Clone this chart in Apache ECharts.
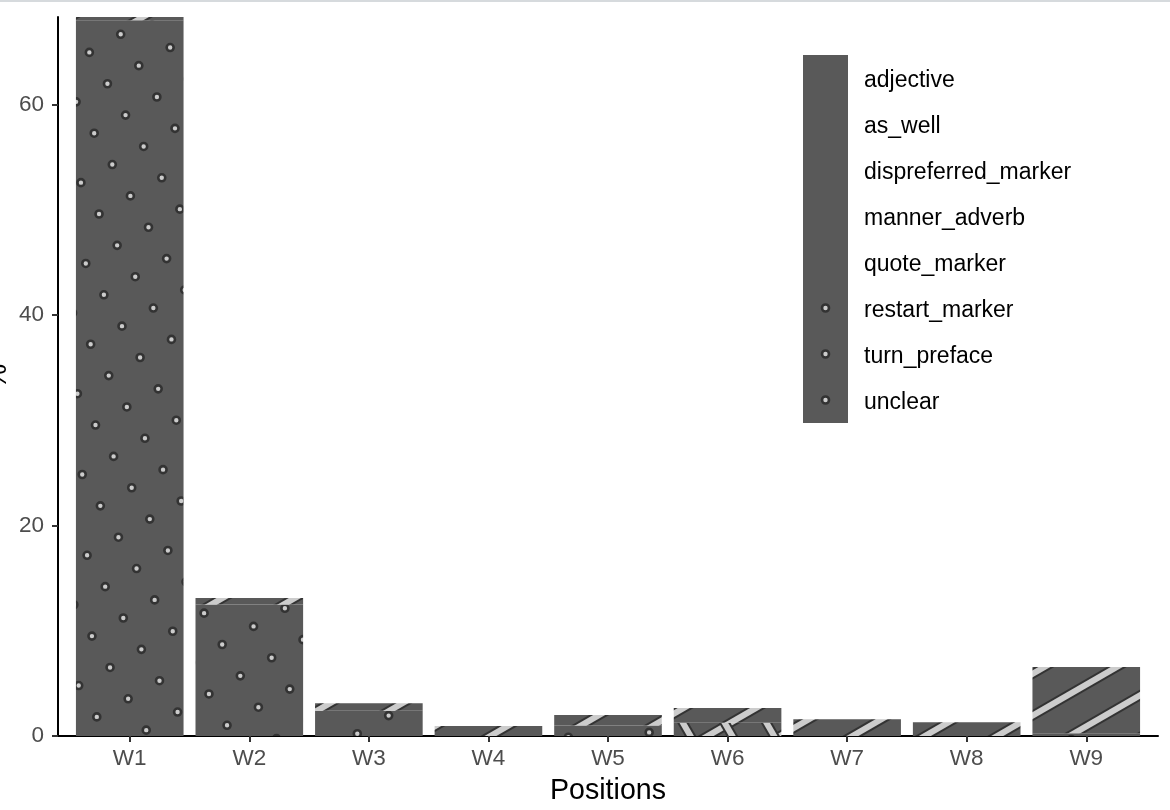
<!DOCTYPE html>
<html lang="en">
<head>
<meta charset="UTF-8">
<script src="https://cdn.jsdelivr.net/npm/echarts@6/dist/echarts.min.js"></script>
<title>Positions</title>
<style>
  html, body { margin: 0; padding: 0; background: #fff; }
  #main { width: 1170px; height: 810px; }
  #topline { position: absolute; left: 0; top: 0; width: 1170px; height: 2px; background: #d6dadd; }
</style>
</head>
<body>
<div id="main"></div>
<div id="topline"></div>
<script>
  // categories and tick labels
  var positions = ['W1', 'W2', 'W3', 'W4', 'W5', 'W6', 'W7', 'W8', 'W9'];
  var yTicks = [0, 20, 40, 60];
  var types = ['adjective', 'as_well', 'dispreferred_marker', 'manner_adverb',
               'quote_marker', 'restart_marker', 'turn_preface', 'unclear'];

  // percentages per position
  var adjective           = [0.3, 0.6, 0.7, 0,    0,   0,    0,   0,   0];
  var as_well             = [0,   0,   0,   0,    1.0, 0,    1.6, 1.3, 0];
  var dispreferred_marker = [0,   0,   0,   0,    0,   1.4,  0,   0,   6.3];
  var manner_adverb       = [0,   0,   0,   0.95, 0,   0,    0,   0,   0];
  var quote_marker        = [0,   0,   0,   0,    0,   1.26, 0,   0,   0];
  var restart_marker      = [68.0, 12.5, 2.4, 0,  0,   0,    0,   0,   0];
  var turn_preface        = [0,   0,   0,   0,    1.0, 0,    0,   0,   0.25];
  var unclear             = [0,   0,   0,   0,    0,   0,    0,   0,   0];

  var valuesByType = {
    adjective: adjective, as_well: as_well, dispreferred_marker: dispreferred_marker,
    manner_adverb: manner_adverb, quote_marker: quote_marker, restart_marker: restart_marker,
    turn_preface: turn_preface, unclear: unclear
  };

  var W = 1170, H = 810;
  var BASE = '#595959', LIGHT = '#cccccc', DARK = '#333333';
  var SP = 36.2; // pattern spacing in px
  var YMAX = 68.3;

  function baseCanvas(w, h) {
    var c = document.createElement('canvas');
    c.width = w; c.height = h;
    var ctx = c.getContext('2d');
    ctx.fillStyle = BASE;
    ctx.fillRect(0, 0, w, h);
    return c;
  }

  function drawDot(ctx, x, y) {
    ctx.beginPath();
    ctx.arc(x, y, 3.5, 0, Math.PI * 2);
    ctx.fillStyle = LIGHT;
    ctx.fill();
    ctx.lineWidth = 2.6;
    ctx.strokeStyle = DARK;
    ctx.stroke();
  }

  // rotated (30 deg) lattice of little circles
  function dotsPattern() {
    var c = baseCanvas(W, H), ctx = c.getContext('2d');
    var s = Math.sin(Math.PI / 6), co = Math.cos(Math.PI / 6);
    var ox = 120.7, oy = 34.3;
    for (var i = -60; i <= 60; i++) {
      for (var j = -60; j <= 60; j++) {
        var x = ox + i * (-SP * co) + j * (SP * s);
        var y = oy + i * (SP * s) + j * (SP * co);
        if (x > -10 && x < W + 10 && y > -10 && y < H + 10) drawDot(ctx, x, y);
      }
    }
    return c;
  }

  function drawStripeSet(ctx, angleDeg, phase) {
    var a = angleDeg * Math.PI / 180;
    var dx = Math.cos(a), dy = -Math.sin(a);   // line direction
    var nx = -dy, ny = dx;                     // normal
    for (var pass = 0; pass < 2; pass++) {
      ctx.strokeStyle = pass === 0 ? DARK : LIGHT;
      ctx.lineWidth = pass === 0 ? 10 : 6;
      for (var k = -80; k <= 80; k++) {
        var c0 = phase + k * SP;
        var cx = nx * c0, cy = ny * c0;
        ctx.beginPath();
        ctx.moveTo(cx - dx * 3000, cy - dy * 3000);
        ctx.lineTo(cx + dx * 3000, cy + dy * 3000);
        ctx.stroke();
      }
    }
  }

  function stripePattern() {
    var c = baseCanvas(W, H), ctx = c.getContext('2d');
    drawStripeSet(ctx, 30, 1136);
    return c;
  }

  function crossPattern() {
    var c = baseCanvas(W, H), ctx = c.getContext('2d');
    drawStripeSet(ctx, 30, 1136);
    drawStripeSet(ctx, 120, 230);
    return c;
  }

  var dots = dotsPattern(), stripes = stripePattern(), cross = crossPattern();
  var patternFor = {
    adjective: stripes, as_well: stripes, dispreferred_marker: stripes, manner_adverb: stripes,
    quote_marker: cross, restart_marker: dots, turn_preface: dots, unclear: dots
  };

  // legend key with a single dot
  var keyCanvas = baseCanvas(45, 46);
  drawDot(keyCanvas.getContext('2d'), 22.5, 23);
  var dotKey = 'image://' + keyCanvas.toDataURL();

  var legendData = types.map(function (t) {
    var isDot = patternFor[t] === dots;
    return { name: t, icon: isDot ? dotKey : 'rect', itemStyle: { color: BASE } };
  });

  // ggplot stacks the first level on top, so add series bottom-up
  var series = types.slice().reverse().map(function (t) {
    return {
      name: t,
      type: 'bar',
      stack: 'total',
      xAxisIndex: 0,
      yAxisIndex: 0,
      barWidth: '90%',
      silent: true,
      emphasis: { disabled: true },
      itemStyle: { color: { image: patternFor[t], repeat: 'repeat' } },
      data: valuesByType[t]
    };
  });

  var font = 'Liberation Sans, Arial, Helvetica, sans-serif';
  var myChart = echarts.init(document.getElementById('main'), null, { renderer: 'canvas' });

  // grid 0 holds the bars on a category axis whose bands match ggplot's 0.6 expansion;
  // grid 1 carries the visible axes spanning the full panel
  var panelLeft = 58, panelRight = 12, panelW = W - panelLeft - panelRight;
  var band = panelW / (positions.length - 1 + 1.2);
  var inset = band * 0.1;

  myChart.setOption({
    animation: false,
    backgroundColor: '#ffffff',
    textStyle: { fontFamily: font },
    grid: [
      { left: panelLeft + inset, right: panelRight + inset, top: 17, bottom: 74, outerBoundsMode: 'none' },
      { left: panelLeft, right: panelRight, top: 17, bottom: 74, outerBoundsMode: 'none' }
    ],
    legend: {
      orient: 'vertical',
      left: 803,
      top: 55,
      itemWidth: 45,
      itemHeight: 46,
      itemGap: 0,
      padding: 0,
      selectedMode: false,
      data: legendData,
      formatter: function (name) { return '{t|' + name + '}'; },
      textStyle: {
        fontSize: 23, color: '#000', fontFamily: font, padding: [0, 0, 0, 11],
        rich: { t: { fontSize: 23, color: '#000', fontFamily: font, padding: [6, 0, 0, 0] } }
      }
    },
    xAxis: [
      {
        type: 'category',
        gridIndex: 0,
        data: positions,
        show: false
      },
      {
        type: 'value',
        gridIndex: 1,
        min: 0.4,
        max: positions.length + 0.6,
        name: 'Positions',
        nameLocation: 'middle',
        nameGap: 41,
        nameMoveOverlap: false,
        nameTextStyle: { fontSize: 28.6, color: '#000', fontFamily: font },
        axisLine: { show: true, onZero: false, lineStyle: { color: '#000', width: 2 } },
        axisTick: { show: true, length: 6, lineStyle: { color: '#333', width: 2 },
                    customValues: positions.map(function (p, i) { return i + 1; }) },
        axisLabel: {
          customValues: positions.map(function (p, i) { return i + 1; }),
          formatter: function (v) { return positions[Math.round(v) - 1]; },
          fontSize: 22.5, color: '#4d4d4d', margin: 11, fontFamily: font
        },
        splitLine: { show: false }
      }
    ],
    yAxis: [
      {
        type: 'value',
        gridIndex: 0,
        min: 0,
        max: YMAX,
        show: false
      },
      {
        type: 'value',
        gridIndex: 1,
        min: 0,
        max: YMAX,
        name: '%',
        nameLocation: 'middle',
        nameGap: 45,
        nameMoveOverlap: false,
        nameTextStyle: { fontSize: 28.6, color: '#000', fontFamily: font },
        axisLine: { show: true, lineStyle: { color: '#000', width: 2 } },
        axisTick: { show: true, length: 6, lineStyle: { color: '#333', width: 2 }, customValues: yTicks },
        axisLabel: { customValues: yTicks, fontSize: 22.5, color: '#4d4d4d', margin: 14, fontFamily: font },
        splitLine: { show: false }
      }
    ],
    series: series
  });
</script>
</body>
</html>
